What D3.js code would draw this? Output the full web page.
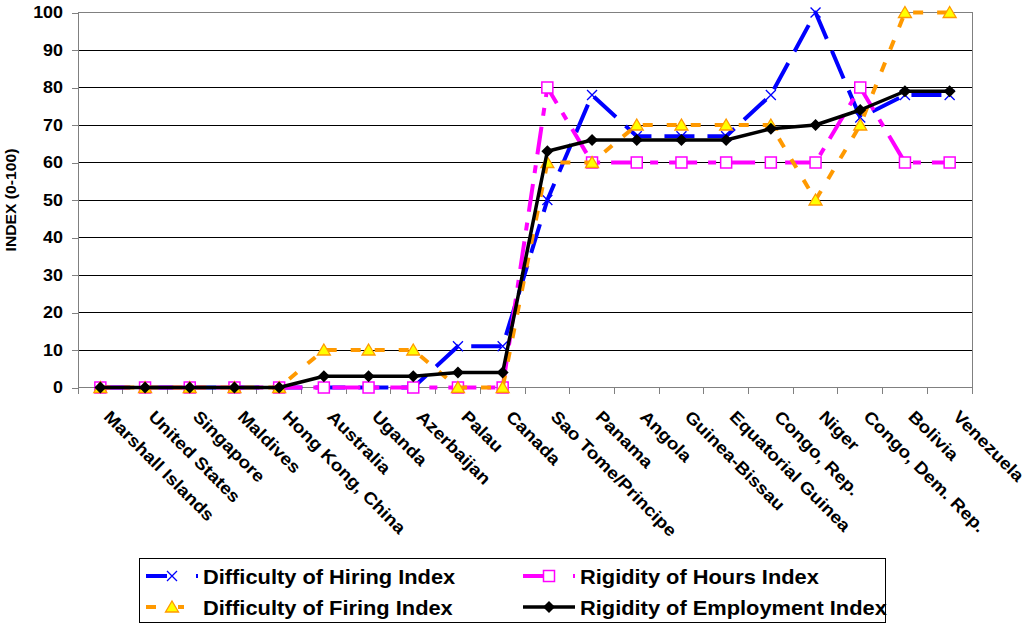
<!DOCTYPE html>
<html>
<head>
<meta charset="utf-8">
<script src="https://cdn.jsdelivr.net/npm/d3@7"></script>
<style>
  html, body { margin: 0; padding: 0; background: #fff; }
  svg text { font-family: "Liberation Sans", Arial, sans-serif; font-weight: bold; fill: #000; }
</style>
</head>
<body>
<div id="chart"></div>
<script>
// chart values
const categories = ["Marshall Islands", "United States", "Singapore", "Maldives", "Hong Kong, China",
  "Australia", "Uganda", "Azerbaijan", "Palau", "Canada", "Sao Tome/Principe", "Panama", "Angola",
  "Guinea-Bissau", "Equatorial Guinea", "Congo, Rep.", "Niger", "Congo, Dem. Rep.", "Bolivia", "Venezuela"];
const hiring = [0, 0, 0, 0, 0, 0, 0, 0, 11, 11, 50, 78, 67, 67, 67, 78, 100, 72, 78, 78];
const firing = [0, 0, 0, 0, 0, 10, 10, 10, 0, 0, 60, 60, 70, 70, 70, 70, 50, 70, 100, 100];
const hours = [0, 0, 0, 0, 0, 0, 0, 0, 0, 0, 80, 60, 60, 60, 60, 60, 60, 80, 60, 60];
const employment = [0, 0, 0, 0, 0, 3, 3, 3, 4, 4, 63, 66, 66, 66, 66, 69, 70, 74, 79, 79];
const yTicks = [0, 10, 20, 30, 40, 50, 60, 70, 80, 90, 100];
const yTitle = "INDEX (0-100)";

const svgWidth = 1029;
const svgHeight = 626;
const plot = { left: 78, right: 972, top: 12.5, bottom: 387.5 };
const stretch = 1.12; // text in the picture is a little wider than normal

const svg = d3.select("#chart")
    .append("svg")
    .attr("width", svgWidth)
    .attr("height", svgHeight);

const xScale = d3.scaleBand()
    .domain(categories)
    .range([plot.left, plot.right])
    .padding(0);
const xMid = d => xScale(d) + xScale.bandwidth() / 2;

const yScale = d3.scaleLinear()
    .domain([0, 100])
    .range([plot.bottom, plot.top]);

// gridlines
svg.append("g")
    .selectAll("line")
    .data(yTicks.filter(v => v > 0 && v < 100))
    .enter()
    .append("line")
    .attr("x1", plot.left)
    .attr("x2", plot.right)
    .attr("y1", d => yScale(d))
    .attr("y2", d => yScale(d))
    .attr("stroke", "#000")
    .attr("shape-rendering", "crispEdges");

// plot border (top and right)
svg.append("path")
    .attr("d", `M${plot.left},${yScale(100)}H${plot.right}V${plot.bottom}`)
    .attr("fill", "none")
    .attr("stroke", "#808080")
    .attr("shape-rendering", "crispEdges");

// y axis
const leftAxis = d3.axisLeft(yScale).tickValues(yTicks).tickSize(6).tickFormat("");
const yAxis = svg.append("g")
    .attr("transform", `translate(${plot.left},0)`)
    .call(leftAxis);
yAxis.selectAll("path, line").attr("stroke", "#808080").attr("shape-rendering", "crispEdges");

svg.append("g")
    .selectAll("text")
    .data(yTicks)
    .enter()
    .append("text")
    .attr("transform", d => `translate(63,${yScale(d)}) scale(${stretch},1)`)
    .attr("dy", "0.36em")
    .attr("text-anchor", "end")
    .style("font-size", "16px")
    .text(d => d);

svg.append("text")
    .attr("transform", `translate(16,${(plot.top + plot.bottom) / 2}) rotate(-90) scale(${stretch},1)`)
    .attr("text-anchor", "middle")
    .style("font-size", "14px")
    .text(yTitle);

// x axis: ticks sit between categories
const xEdges = categories.map(c => xScale(c)).concat([plot.right]);
const xAxis = svg.append("g");
xAxis.append("line")
    .attr("x1", plot.left)
    .attr("x2", plot.right)
    .attr("y1", plot.bottom)
    .attr("y2", plot.bottom)
    .attr("stroke", "#808080")
    .attr("shape-rendering", "crispEdges");
xAxis.selectAll(".tick")
    .data(xEdges)
    .enter()
    .append("line")
    .attr("class", "tick")
    .attr("x1", d => d)
    .attr("x2", d => d)
    .attr("y1", plot.bottom)
    .attr("y2", plot.bottom + 6)
    .attr("stroke", "#808080")
    .attr("shape-rendering", "crispEdges");

svg.append("g")
    .selectAll("text")
    .data(categories)
    .enter()
    .append("text")
    .attr("transform", d => `translate(${xMid(d) + 11},409) rotate(45) scale(${stretch},1)`)
    .attr("dy", "0.72em")
    .attr("text-anchor", "start")
    .style("font-size", "17px")
    .text(d => d);

// series
const markers = {
    cross: g => g.append("path").attr("d", "M-5,-5L5,5M-5,5L5,-5")
        .attr("stroke", "#0000ff").attr("stroke-width", 1.3).attr("fill", "none"),
    square: g => g.append("rect").attr("x", -5.5).attr("y", -5.5).attr("width", 11).attr("height", 11)
        .attr("fill", "#fff").attr("stroke", "#ff00ff").attr("stroke-width", 1.5),
    triangle: g => g.append("path").attr("d", "M0,-6L6.5,5L-6.5,5Z")
        .attr("fill", "#ffff00").attr("stroke", "#ff9900").attr("stroke-width", 1.3),
    diamond: g => g.append("path").attr("d", "M0,-6L6,0L0,6L-6,0Z").attr("fill", "#000")
};

const series = [
    { name: "Difficulty of Hiring Index", values: hiring, color: "#0000ff", width: 4, dash: "30,13", legendDash: "21,29,2", marker: "cross" },
    { name: "Rigidity of Hours Index", values: hours, color: "#ff00ff", width: 4, dash: "28,11,8,11", legendDash: "21,29,2", marker: "square" },
    { name: "Difficulty of Firing Index", values: firing, color: "#ff9900", width: 4, dash: "10,14", legendDash: "10,22,6,14", marker: "triangle" },
    { name: "Rigidity of Employment Index", values: employment, color: "#000", width: 3.5, dash: null, legendDash: null, marker: "diamond" }
];

const line = d3.line()
    .x((d, i) => xMid(categories[i]))
    .y(d => yScale(d));

series.forEach(s => {
    const g = svg.append("g");
    g.append("path")
        .datum(s.values)
        .attr("d", line)
        .attr("fill", "none")
        .attr("stroke", s.color)
        .attr("stroke-width", s.width)
        .attr("stroke-dasharray", s.dash)
        .attr("stroke-linejoin", "round");
    g.selectAll(".pt")
        .data(s.values)
        .enter()
        .append("g")
        .attr("class", "pt")
        .attr("transform", (d, i) => `translate(${xMid(categories[i])},${yScale(d)})`)
        .each(function() { markers[s.marker](d3.select(this)); });
});

// legend
const legend = svg.append("g");
legend.append("rect")
    .attr("x", 139.5)
    .attr("y", 558.5)
    .attr("width", 746)
    .attr("height", 64)
    .attr("fill", "#fff")
    .attr("stroke", "#000");

// row-major: hiring, hours / firing, employment
const legendPos = [
    { x: 146, y: 576 }, { x: 523, y: 576 },
    { x: 146, y: 607 }, { x: 523, y: 607 }
];
series.forEach((s, i) => {
    const p = legendPos[i];
    const item = legend.append("g").attr("transform", `translate(${p.x},${p.y})`);
    item.append("line")
        .attr("x1", 0)
        .attr("x2", 52)
        .attr("stroke", s.color)
        .attr("stroke-width", s.width)
        .attr("stroke-dasharray", s.legendDash);
    markers[s.marker](item.append("g").attr("transform", "translate(26,0)"));
    item.append("text")
        .attr("transform", `translate(57,7.5) scale(${stretch},1)`)
        .style("font-size", "19.5px")
        .text(s.name);
});
</script>
</body>
</html>
